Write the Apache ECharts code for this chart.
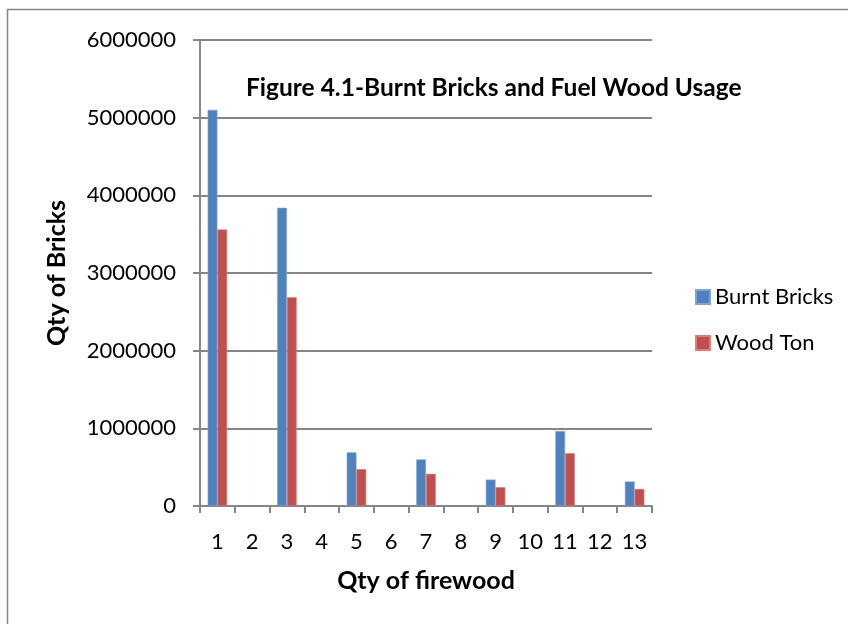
<!DOCTYPE html>
<html>
<head>
<meta charset="utf-8">
<script src="https://cdn.jsdelivr.net/npm/echarts@6/dist/echarts.min.js"></script>
<style>
  html, body { margin: 0; padding: 0; background: #ffffff; }
  #chart { width: 848px; height: 624px; }
</style>
</head>
<body>
<div id="chart"></div>
<script>
// Firewood quantity classes on the x axis
const categories = ['1', '2', '3', '4', '5', '6', '7', '8', '9', '10', '11', '12', '13'];
// Burnt bricks produced per class (blank classes have no entry)
const burntBricks = [5100000, null, 3840000, null, 690000, null, 600000, null, 340000, null, 965000, null, 315000];
// Fuel wood used, tons
const woodTon = [3560000, null, 2690000, null, 475000, null, 415000, null, 242000, null, 680000, null, 220000];
const yTicks = { min: 0, max: 6000000, interval: 1000000 };

const FONT = 'Lato';
const chart = echarts.init(document.getElementById('chart'), null, { renderer: 'canvas' });

chart.setOption({
  backgroundColor: '#ffffff',
  animation: false,
  textStyle: { fontFamily: FONT, color: '#000000' },
  title: {
    text: 'Figure 4.1-Burnt Bricks and Fuel Wood Usage',
    left: 241,
    top: 71,
    textStyle: { fontFamily: FONT, fontSize: 24.5, fontWeight: 'bold', color: '#000000' }
  },
  legend: {
    orient: 'vertical',
    left: 690,
    top: 281,
    itemWidth: 14,
    itemHeight: 14,
    itemGap: 24,
    icon: 'rect',
    textStyle: { fontFamily: FONT, fontSize: 22, color: '#000000' },
    data: ['Burnt Bricks', 'Wood Ton']
  },
  grid: { left: 200, right: 196, top: 40, bottom: 118, containLabel: false },
  xAxis: {
    type: 'category',
    data: categories,
    name: 'Qty of firewood',
    nameLocation: 'middle',
    nameGap: 62,
    nameTextStyle: { fontFamily: FONT, fontSize: 25, fontWeight: 'bold', color: '#000000' },
    axisLine: { lineStyle: { color: '#868686', width: 2 } },
    axisTick: { show: true, length: 7, lineStyle: { color: '#868686', width: 2 } },
    axisLabel: { margin: 25, fontSize: 22, color: '#000000', fontFamily: FONT },
    splitLine: { show: false }
  },
  yAxis: {
    type: 'value',
    min: yTicks.min,
    max: yTicks.max,
    interval: yTicks.interval,
    name: 'Qty of Bricks',
    nameLocation: 'middle',
    nameGap: 131,
    nameTextStyle: { fontFamily: FONT, fontSize: 25, fontWeight: 'bold', color: '#000000' },
    axisLine: { show: true, lineStyle: { color: '#868686', width: 2 } },
    axisTick: { show: true, length: 7, lineStyle: { color: '#868686', width: 2 } },
    axisLabel: {
      margin: 24, fontSize: 22, color: '#000000', fontFamily: FONT,
      formatter: function (v) { return String(v); }
    },
    splitLine: { show: true, lineStyle: { color: '#868686', width: 2 } }
  },
  series: [
    {
      name: 'Burnt Bricks',
      type: 'bar',
      data: burntBricks,
      barGap: '0%',
      barCategoryGap: '44%',
      itemStyle: { color: '#4F81BD', borderColor: '#7FA3D3', borderWidth: 0.6 }
    },
    {
      name: 'Wood Ton',
      type: 'bar',
      data: woodTon,
      barGap: '0%',
      barCategoryGap: '44%',
      itemStyle: { color: '#C0504D', borderColor: '#D9807E', borderWidth: 0.6 }
    }
  ],
  graphic: [
    {
      type: 'rect',
      shape: { x: 7.5, y: 9.5, width: 900, height: 700 },
      style: { fill: 'none', stroke: '#868686', lineWidth: 1.5 },
      silent: true,
      z: -1
    }
  ]
});
</script>
</body>
</html>
